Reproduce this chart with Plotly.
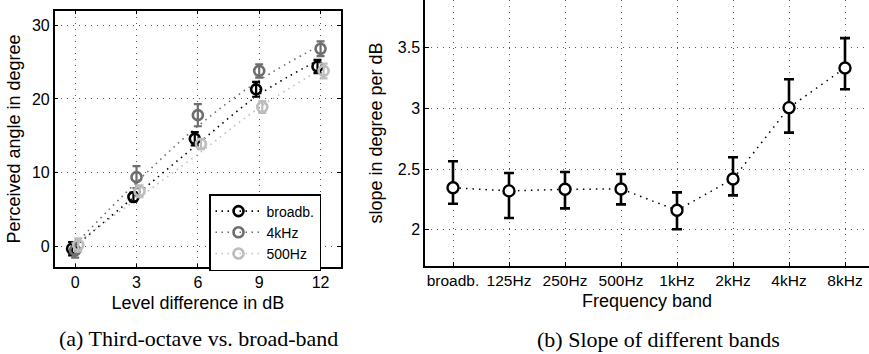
import plotly.graph_objects as go

# ---------------- data: left panel ----------------
level_db = [0, 3, 6, 9, 12]
broadb_mean = [-0.3, 6.7, 14.6, 21.3, 24.4]
broadb_err = [0.9, 0.6, 0.9, 1.0, 0.9]
khz4_mean = [-0.5, 9.4, 17.8, 23.8, 26.8]
khz4_err = [1.0, 1.5, 1.5, 0.9, 1.0]
hz500_mean = [0.2, 7.5, 13.9, 18.9, 23.8]
hz500_err = [0.9, 0.8, 0.7, 0.8, 1.0]
# fitted curves
fit_broadb = [0.0, 7.0, 13.9, 20.6, 25.4]
fit_4khz = [0.3, 8.7, 16.3, 22.5, 27.3]
fit_500hz = [0.3, 6.4, 12.5, 18.8, 24.0]
left_xticks = [0, 3, 6, 9, 12]
left_yticks = [0, 10, 20, 30]

# ---------------- data: right panel ----------------
bands = ["broadb.", "125Hz", "250Hz", "500Hz", "1kHz", "2kHz", "4kHz", "8kHz"]
slope_mean = [2.346, 2.32, 2.333, 2.336, 2.16, 2.418, 3.006, 3.333]
slope_upper = [2.564, 2.467, 2.476, 2.459, 2.308, 2.597, 3.24, 3.579]
slope_lower = [2.214, 2.096, 2.176, 2.209, 2.004, 2.283, 2.80, 3.157]
right_yticks = [2, 2.5, 3, 3.5]

BLACK = "#000000"
GRAY = "#6e6e6e"
LIGHT = "#bdbdbd"
FONT = "Liberation Sans, Arial, sans-serif"

fig = go.Figure()

series = [
    ("broadb.", broadb_mean, broadb_err, fit_broadb, BLACK, -0.15),
    ("4kHz", khz4_mean, khz4_err, fit_4khz, GRAY, 0.0),
    ("500Hz", hz500_mean, hz500_err, fit_500hz, LIGHT, 0.15),
]

# fitted dotted lines
for name, m, e, f, c, off in series:
    fig.add_trace(go.Scatter(
        x=level_db, y=f, mode="lines", line=dict(color=c, width=1.6, dash="1.5px,4.5px", shape="spline"),
        showlegend=False, hoverinfo="skip", xaxis="x", yaxis="y"))

# data points with error bars
for name, m, e, f, c, off in series:
    fig.add_trace(go.Scatter(
        x=[v + off for v in level_db], y=m, mode="markers",
        marker=dict(symbol="circle-open", size=10, color=c, line=dict(width=2.6, color=c)),
        error_y=dict(type="data", array=e, visible=True, color=c, thickness=2.2, width=4),
        showlegend=False, xaxis="x", yaxis="y"))

# legend entries (style only)
for name, m, e, f, c, off in series:
    fig.add_trace(go.Scatter(
        x=[None], y=[None], mode="lines+markers", name=name,
        line=dict(color=c, width=1.6, dash="1.5px,4.5px"),
        marker=dict(symbol="circle-open", size=10, color=c, line=dict(width=2.6, color=c)),
        xaxis="x", yaxis="y"))

# right panel
idx = list(range(1, len(bands) + 1))
fig.add_trace(go.Scatter(
    x=idx, y=slope_mean, mode="lines+markers",
    line=dict(color=BLACK, width=1.5, dash="1.5px,5px"),
    marker=dict(symbol="circle", size=11, color="white", line=dict(width=2.4, color=BLACK)),
    error_y=dict(type="data", symmetric=False,
                 array=[u - mm for u, mm in zip(slope_upper, slope_mean)],
                 arrayminus=[mm - l for mm, l in zip(slope_mean, slope_lower)],
                 color=BLACK, thickness=2.6, width=5),
    showlegend=False, xaxis="x2", yaxis="y2"))

W, H = 869, 354
axis_common = dict(
    showline=True, linecolor="black", linewidth=1.5,
    ticks="inside", ticklen=4, tickcolor="black",
    showgrid=True, gridcolor="#555555", gridwidth=1, griddash="1px,5px",
    zeroline=False, tickfont=dict(family=FONT, size=16, color="black"),
    title_font=dict(family=FONT, size=18, color="black"),
)

fig.update_layout(
    width=W, height=H,
    margin=dict(l=0, r=0, t=0, b=0),
    paper_bgcolor="white", plot_bgcolor="white",
    font=dict(family=FONT, size=16, color="black"),
    xaxis=dict(axis_common, domain=[54.7 / W, 341 / W], range=[-1, 13],
               tickvals=left_xticks, mirror="ticks", anchor="y",
               title=dict(text="Level difference in dB", standoff=6), automargin=False),
    yaxis=dict(axis_common, domain=[1 - 267.3 / H, 1 - 10.7 / H], range=[-2.82, 31.96],
               tickvals=left_yticks, mirror="ticks", anchor="x",
               title=dict(text="Perceived angle in degree", standoff=7), automargin=False),
    xaxis2=dict(axis_common, domain=[425 / W, 1.0], range=[0.5, 0.5 + (W - 425) / 56.0],
                tickvals=idx, ticktext=bands, anchor="y2",
                tickfont=dict(family=FONT, size=15.5, color="black"),
                title=dict(text="Frequency band", standoff=6), automargin=False),
    yaxis2=dict(axis_common, domain=[1 - 266 / H, 1.0], range=[1.701, 3.893],
                tickvals=right_yticks, ticktext=["2", "2.5", "3", "3.5"], anchor="x2",
                title=dict(text="slope in degree per dB", standoff=10), automargin=False),
    legend=dict(x=209 / W, y=1 - 194 / H, xanchor="left", yanchor="top",
                bgcolor="white", bordercolor="black", borderwidth=1.5,
                font=dict(family=FONT, size=14, color="black"),
                itemwidth=46, tracegroupgap=0),
    annotations=[
        dict(text="(a) Third-octave vs. broad-band", x=198 / W, y=1 - 338.5 / H,
             xref="paper", yref="paper", showarrow=False, xanchor="center", yanchor="middle",
             font=dict(family="Liberation Serif, Times New Roman, serif", size=22, color="black")),
        dict(text="(b) Slope of different bands", x=658 / W, y=1 - 339 / H,
             xref="paper", yref="paper", showarrow=False, xanchor="center", yanchor="middle",
             font=dict(family="Liberation Serif, Times New Roman, serif", size=22, color="black")),
    ],
)

fig.write_html("out.html")
